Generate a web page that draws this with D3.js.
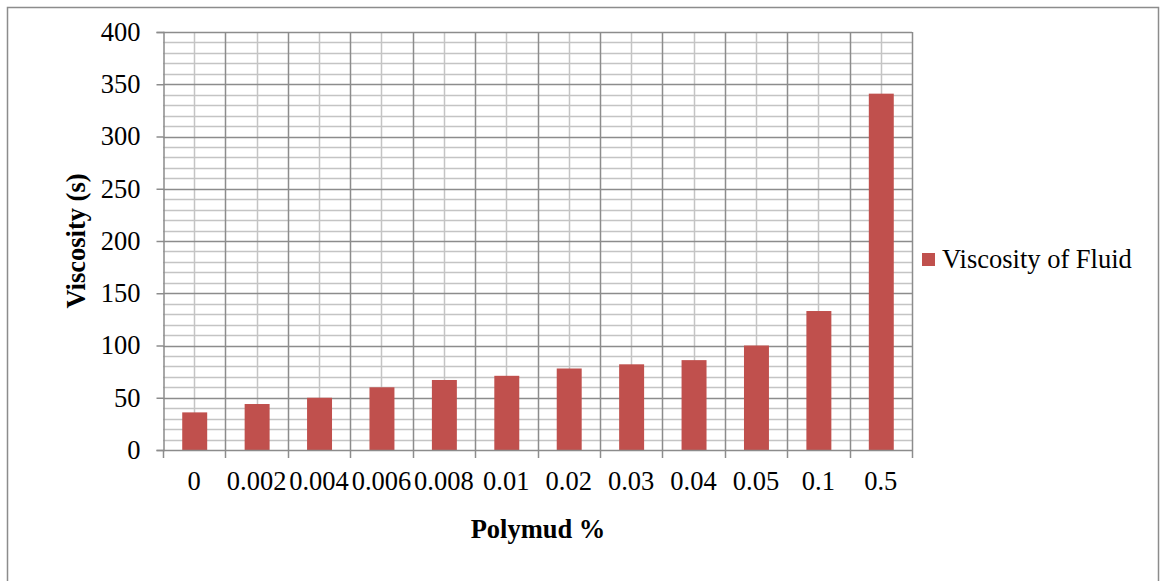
<!DOCTYPE html>
<html>
<head>
<meta charset="utf-8">
<script src="https://cdn.jsdelivr.net/npm/d3@7"></script>
<style>
  html, body { margin: 0; padding: 0; background: #fff; }
  svg { display: block; }
  text { font-family: "Liberation Serif", "Times New Roman", serif; fill: #000; }
</style>
</head>
<body>
<svg id="chart" width="1160" height="581"></svg>
<script>
// Polymud concentration (%) and measured viscosity (s)
const categories = ["0", "0.002", "0.004", "0.006", "0.008", "0.01", "0.02", "0.03", "0.04", "0.05", "0.1", "0.5"];
const viscosity = [36, 44, 50, 60, 67, 71, 78, 82, 86, 100, 133, 341];
const yTicks = [0, 50, 100, 150, 200, 250, 300, 350, 400];
const seriesName = "Viscosity of Fluid";

const svg = d3.select("#chart");
const W = 1160, H = 581;
const FS = 26.5;

// outer chart frame
svg.append("rect")
  .attr("x", 7.5).attr("y", 7.5)
  .attr("width", W - 9).attr("height", H)
  .attr("fill", "#fff").attr("stroke", "#8c8c8c").attr("stroke-width", 1.5);

const plot = { left: 163, right: 912, top: 32, bottom: 450 };

const x = d3.scaleBand().domain(categories).range([plot.left, plot.right]).paddingInner(0).paddingOuter(0);
const y = d3.scaleLinear().domain([0, 400]).range([plot.bottom, plot.top]);

const g = svg.append("g");

// minor horizontal grid every 10
const minor = d3.range(10, 400, 10).filter(v => v % 50 !== 0);
g.selectAll(".hminor").data(minor).enter().append("line")
  .attr("x1", plot.left).attr("x2", plot.right)
  .attr("y1", d => Math.round(y(d)) + 0.5).attr("y2", d => Math.round(y(d)) + 0.5)
  .attr("stroke", "#c4c4c4").attr("stroke-width", 1.5);

// minor vertical grid at category centres
g.selectAll(".vminor").data(categories).enter().append("line")
  .attr("x1", d => Math.round(x(d) + x.bandwidth() / 2) + 0.5)
  .attr("x2", d => Math.round(x(d) + x.bandwidth() / 2) + 0.5)
  .attr("y1", plot.top).attr("y2", plot.bottom)
  .attr("stroke", "#c4c4c4").attr("stroke-width", 1.5);

// major horizontal grid
g.selectAll(".hmajor").data(yTicks.slice(1)).enter().append("line")
  .attr("x1", plot.left).attr("x2", plot.right)
  .attr("y1", d => Math.round(y(d)) + 0.5).attr("y2", d => Math.round(y(d)) + 0.5)
  .attr("stroke", "#8c8c8c").attr("stroke-width", 1.5);

// major vertical grid at category boundaries
const bounds = categories.map(c => x(c)).concat([plot.right]);
g.selectAll(".vmajor").data(bounds.slice(1)).enter().append("line")
  .attr("x1", d => Math.round(d) + 0.5).attr("x2", d => Math.round(d) + 0.5)
  .attr("y1", plot.top).attr("y2", plot.bottom)
  .attr("stroke", "#8c8c8c").attr("stroke-width", 1.5);

// bars
const barW = x.bandwidth() * 0.4;
g.selectAll(".bar").data(viscosity).enter().append("rect")
  .attr("x", (d, i) => x(categories[i]) + x.bandwidth() / 2 - barW / 2 + 0.5)
  .attr("y", d => y(d))
  .attr("width", barW)
  .attr("height", d => y(0) - y(d))
  .attr("fill", "#c0504d");

// y axis
const yAxis = d3.axisLeft(y).tickValues(yTicks).tickSize(7).tickPadding(16);
const ya = svg.append("g").attr("transform", `translate(${plot.left + 0.5},0)`).call(yAxis);
ya.select(".domain").attr("stroke", "#8c8c8c").attr("stroke-width", 1.5);
ya.selectAll(".tick line").attr("stroke", "#8c8c8c").attr("stroke-width", 1.5);
ya.selectAll(".tick text").attr("font-size", FS).attr("font-family", "Liberation Serif").attr("fill", "#000");

// x axis
const xAxis = d3.axisBottom(x).tickSize(0).tickPadding(21);
const xa = svg.append("g").attr("transform", `translate(0,${plot.bottom + 0.5})`).call(xAxis);
xa.select(".domain").remove();
xa.selectAll(".tick text").attr("font-size", FS).attr("font-family", "Liberation Serif").attr("fill", "#000");
svg.append("line")
  .attr("x1", plot.left).attr("x2", plot.right)
  .attr("y1", plot.bottom + 0.5).attr("y2", plot.bottom + 0.5)
  .attr("stroke", "#8c8c8c").attr("stroke-width", 1.5);
svg.selectAll(".xtick").data(bounds).enter().append("line")
  .attr("x1", d => Math.round(d) + 0.5).attr("x2", d => Math.round(d) + 0.5)
  .attr("y1", plot.bottom).attr("y2", plot.bottom + 8)
  .attr("stroke", "#8c8c8c").attr("stroke-width", 1.5);

// axis titles
svg.append("text")
  .attr("x", 538).attr("y", 538)
  .attr("text-anchor", "middle").attr("font-size", FS).attr("font-weight", "bold")
  .text("Polymud %");
svg.append("text")
  .attr("transform", `translate(85,241) rotate(-90)`)
  .attr("text-anchor", "middle").attr("font-size", FS).attr("font-weight", "bold")
  .text("Viscosity (s)");

// legend
const lg = svg.append("g").attr("transform", "translate(922,253)");
lg.append("rect").attr("width", 13).attr("height", 13).attr("fill", "#c0504d");
lg.append("text").attr("x", 20).attr("y", 15).attr("font-size", FS).text(seriesName);
</script>
</body>
</html>
